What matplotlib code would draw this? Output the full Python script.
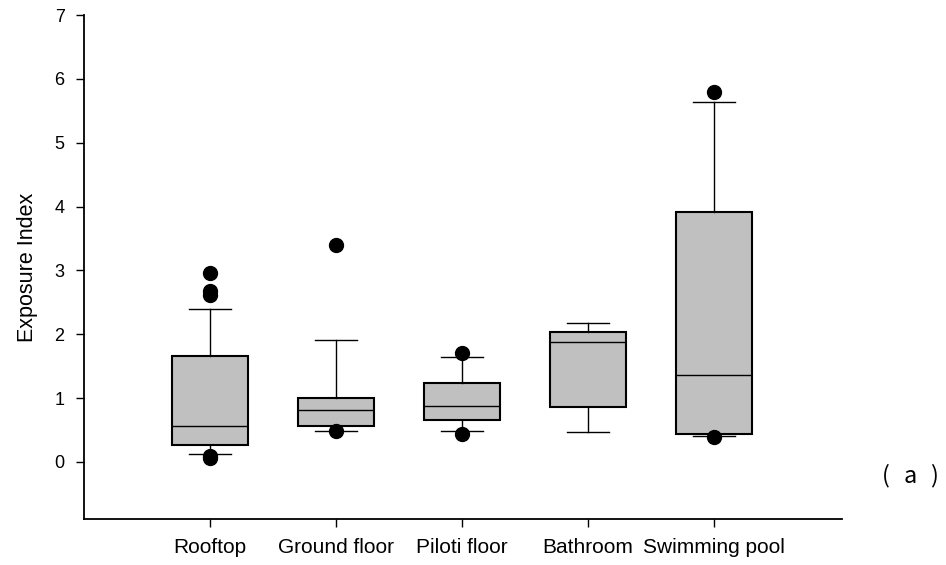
import matplotlib
matplotlib.use("Agg")
import matplotlib.pyplot as plt

plt.rcParams['font.family'] = ['Liberation Sans', 'DejaVu Sans']

locations = ['Rooftop', 'Ground floor', 'Piloti floor', 'Bathroom', 'Swimming pool']
q1 = [0.27, 0.56, 0.65, 0.86, 0.44]
median = [0.56, 0.81, 0.87, 1.88, 1.37]
q3 = [1.66, 1.00, 1.23, 2.03, 3.91]
whislo = [0.12, 0.49, 0.49, 0.47, 0.41]
whishi = [2.40, 1.91, 1.64, 2.18, 5.64]
outliers = [
    [2.96, 2.68, 2.62, 0.10, 0.07],
    [3.40, 0.48],
    [1.70, 0.44],
    [],
    [5.80, 0.39],
]

stats = []
for i, name in enumerate(locations):
    stats.append({'label': name, 'q1': q1[i], 'med': median[i], 'q3': q3[i],
                  'whislo': whislo[i], 'whishi': whishi[i], 'fliers': outliers[i]})

fig = plt.figure(figsize=(9.46, 5.65), dpi=100)
ax = fig.add_axes([0.0888, 0.0814, 0.801, 0.892])

ax.bxp(stats, positions=range(1, 6), widths=0.6, patch_artist=True,
       boxprops=dict(facecolor='#c0c0c0', edgecolor='black', linewidth=1.5),
       medianprops=dict(color='black', linewidth=1.0),
       whiskerprops=dict(color='black', linewidth=1.0),
       capprops=dict(color='black', linewidth=1.0),
       capwidths=0.33,
       flierprops=dict(marker='o', markerfacecolor='black', markeredgecolor='black',
                       markersize=10))

ax.set_xlim(0, 6.016)
ax.set_ylim(-0.893, 7)
ax.set_yticks(range(0, 8))
ax.set_xticks(range(1, 6))
ax.set_xticklabels(locations)
ax.spines['top'].set_visible(False)
ax.spines['right'].set_visible(False)
ax.spines['left'].set_linewidth(1.3)
ax.spines['bottom'].set_linewidth(1.3)
ax.tick_params(direction='out', length=6, width=1.0, colors='black')
ax.tick_params(axis='y', labelsize=13, pad=8)
ax.tick_params(axis='x', labelsize=15, pad=8)
ax.set_ylabel('Exposure Index', fontsize=15.5, labelpad=12)

# panel tag "( a )" spaced out like the original
tag_font = ['Noto Sans CJK SC', 'DejaVu Sans']
for ch, xpos in [('(', 0.9365), ('a', 0.962), (')', 0.987)]:
    fig.text(xpos, 0.1575, ch, fontsize=17, family=tag_font, ha='center', va='center')

fig.savefig('out.png', dpi=100)
